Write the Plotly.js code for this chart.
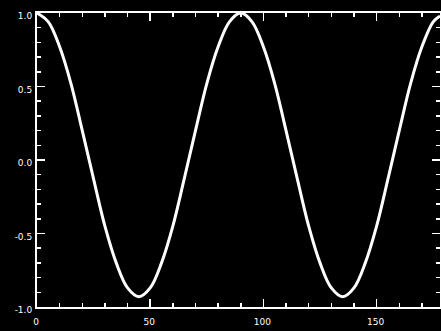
<!DOCTYPE html>
<html>
<head>
<meta charset="utf-8">
<script src="https://cdn.plot.ly/plotly-3.0.1.min.js"></script>
<style>html,body{margin:0;padding:0;background:#000;}#chart{width:441px;height:331px;}</style>
</head>
<body>
<div id="chart"></div>
<script>
const xValues = [0,5,10,15,20,25,30,35,40,45,50,55,60,65,70,75,80,85,90,95,100,105,110,115,120,125,130,135,140,145,150,155,160,165,170,175,178];
const yValues = [1.0,0.94,0.77,0.52,0.2,-0.13,-0.45,-0.7,-0.87,-0.93,-0.87,-0.7,-0.45,-0.13,0.2,0.52,0.77,0.94,1.0,0.94,0.77,0.52,0.2,-0.13,-0.45,-0.7,-0.87,-0.93,-0.87,-0.7,-0.45,-0.13,0.2,0.52,0.77,0.94,0.98];
const xTickVals = [0,50,100,150];
const xTickText = ['0','50','100','150'];
const yTickVals = [-1,-0.5,0,0.5,1];
const yTickText = ['-1.0','-0.5','0.0','0.5','1.0'];

const trace = {x:xValues, y:yValues, type:'scatter', mode:'lines', line:{color:'#fff', width:3, shape:'spline'}, hoverinfo:'skip'};
const axisCommon = {showgrid:false, zeroline:false, showline:true, linecolor:'#fff', linewidth:2, mirror:'allticks',
  ticks:'inside', ticklen:8, tickwidth:1.5, tickcolor:'#fff', tickfont:{family:'DejaVu Sans', size:9, color:'#fff'}, tickmode:'array'};
const layout = {
  width:441, height:331, paper_bgcolor:'#000', plot_bgcolor:'#000', showlegend:false,
  margin:{l:37, r:1, t:13, b:24},
  xaxis:Object.assign({}, axisCommon, {range:[0,178], tickvals:xTickVals, ticktext:xTickText, ticklabelstandoff:5, ticklabelshift:-1,
    minor:{ticks:'inside', ticklen:4, dtick:10, tick0:0, tickcolor:'#fff', tickwidth:1.5, showgrid:false}}),
  yaxis:Object.assign({}, axisCommon, {range:[-1,1], tickvals:yTickVals, ticktext:yTickText, ticklabelshift:3, ticklabelstandoff:1,
    minor:{ticks:'inside', ticklen:4, dtick:0.1, tick0:0, tickcolor:'#fff', tickwidth:1.5, showgrid:false}})
};
Plotly.newPlot('chart',[trace],layout,{staticPlot:true, displayModeBar:false});
</script>
</body>
</html>
